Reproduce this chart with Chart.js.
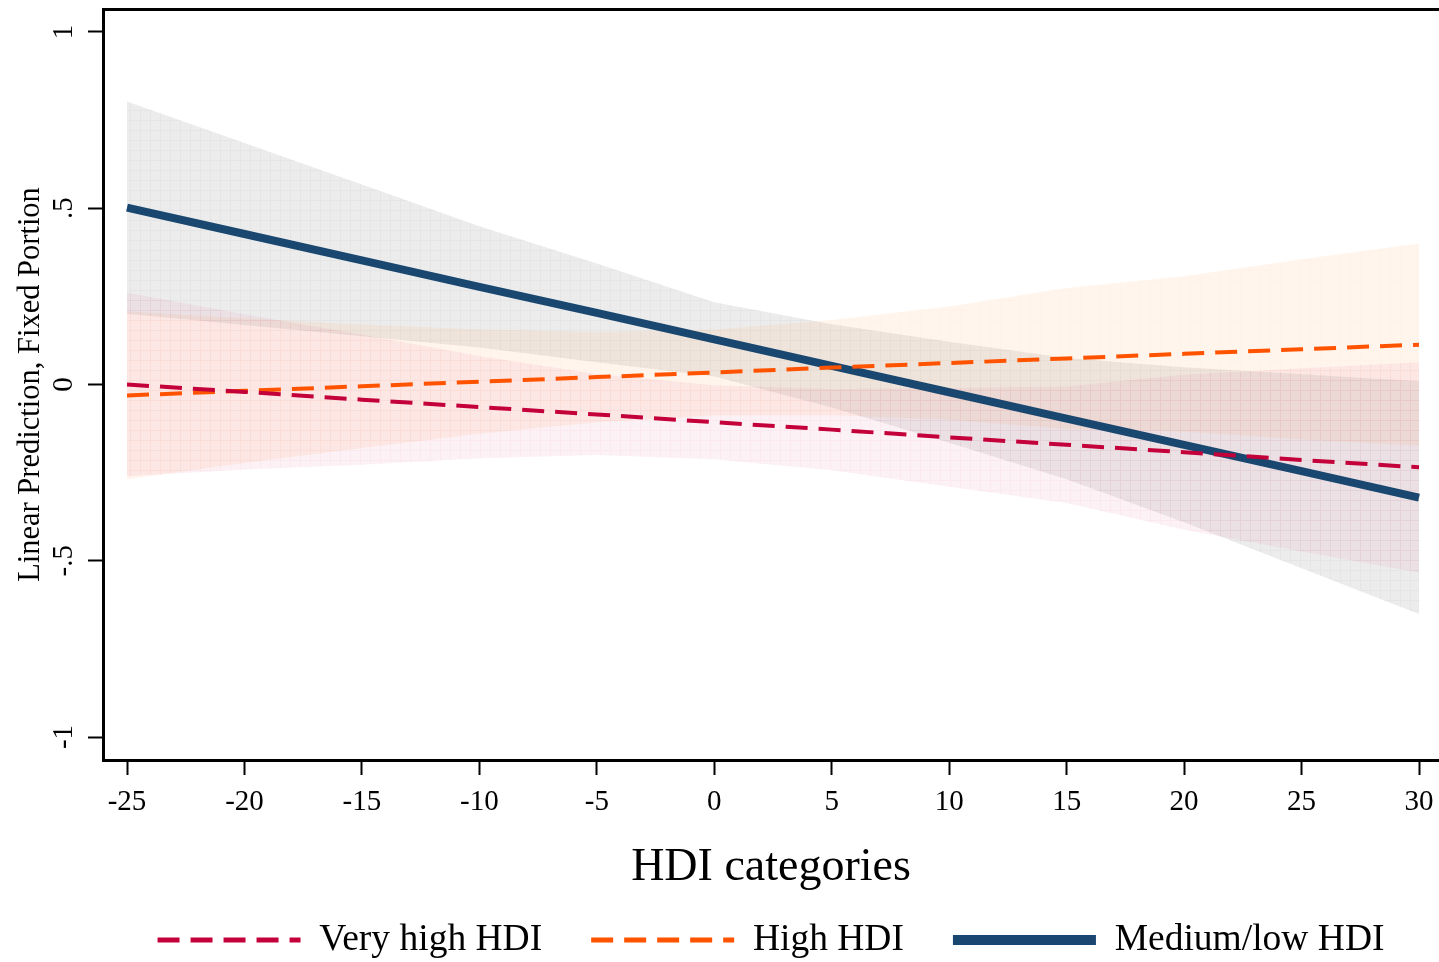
<!DOCTYPE html>
<html>
<head>
<meta charset="utf-8">
<title>Linear prediction by HDI category</title>
<script src="https://cdn.jsdelivr.net/npm/chart.js@4.4.1/dist/chart.umd.min.js"></script>
<style>
  html, body { margin: 0; padding: 0; background: #ffffff; overflow: hidden; }
  #chart { display: block; width: 1439px; height: 962px; }
</style>
</head>
<body>
<canvas id="chart" width="1439" height="962"></canvas>
<script>
// Evaluation points on the HDI axis
const hdiCategories = [-25, -20, -15, -10, -5, 0, 5, 10, 15, 20, 25, 30];

// Very high HDI: prediction and 95% CI
const veryHighFit   = [0.000, -0.021, -0.043, -0.064, -0.085, -0.107, -0.128, -0.150, -0.171, -0.192, -0.214, -0.235];
const veryHighUpper = [0.260,  0.199,  0.142,  0.081,  0.030, -0.002, -0.013, -0.010, -0.006,  0.028,  0.046,  0.063];
const veryHighLower = [-0.260, -0.241, -0.228, -0.209, -0.200, -0.212, -0.243, -0.290, -0.336, -0.412, -0.474, -0.533];

// High HDI: prediction and 95% CI
const highFit   = [-0.031, -0.018, -0.005, 0.008, 0.021, 0.034, 0.048, 0.061, 0.074, 0.087, 0.100, 0.113];
const highUpper = [0.207, 0.187, 0.170, 0.156, 0.149, 0.156, 0.183, 0.221, 0.274, 0.307, 0.355, 0.400];
const highLower = [-0.269, -0.223, -0.180, -0.140, -0.107, -0.088, -0.087, -0.099, -0.126, -0.133, -0.155, -0.174];

// Medium/low HDI: prediction and 95% CI
const mediumLowFit   = [0.502, 0.427, 0.352, 0.277, 0.203, 0.128, 0.053, -0.022, -0.097, -0.171, -0.246, -0.321];
const mediumLowUpper = [0.803, 0.685, 0.567, 0.449, 0.343, 0.233, 0.171, 0.121, 0.075, 0.049, 0.029, 0.009];
const mediumLowLower = [0.201, 0.169, 0.137, 0.105, 0.063, 0.023, -0.065, -0.165, -0.269, -0.391, -0.521, -0.651];

const seriesNames = ['Very high HDI', 'High HDI', 'Medium/low HDI'];

// Axis ticks
const xTickValues = [-25, -20, -15, -10, -5, 0, 5, 10, 15, 20, 25, 30];
const xTickLabels = ['-25', '-20', '-15', '-10', '-5', '0', '5', '10', '15', '20', '25', '30'];
const yTickValues = [-1, -0.5, 0, 0.5, 1];
const yTickLabels = ['-1', '-.5', '0', '.5', '1'];

const SERIF = "'Liberation Serif', 'Times New Roman', Times, serif";
const canvas = document.getElementById('chart');
const ctx = canvas.getContext('2d');

// Light textured fill for the confidence bands
function bandFill(rgb, alpha, lineAlpha) {
  const tile = document.createElement('canvas');
  tile.width = 10; tile.height = 10;
  const t = tile.getContext('2d');
  t.fillStyle = `rgba(${rgb},${alpha})`;
  t.fillRect(0, 0, 10, 10);
  t.clearRect(0, 0, 10, 1);
  t.clearRect(0, 1, 1, 9);
  t.fillStyle = `rgba(${rgb},${lineAlpha})`;
  t.fillRect(0, 0, 10, 1);
  t.fillRect(0, 1, 1, 9);
  return ctx.createPattern(tile, 'repeat');
}

const toPoints = (values) => hdiCategories.map((x, i) => ({ x: x, y: values[i] }));

function bandDatasets(upper, lower, fill) {
  const common = { pointRadius: 0, borderWidth: 1, borderColor: 'rgba(0,0,0,0)', order: 10 };
  return [
    Object.assign({ label: '', data: toPoints(upper), fill: '+1', backgroundColor: fill }, common),
    Object.assign({ label: '', data: toPoints(lower), fill: false }, common)
  ];
}

const datasets = [
  ...bandDatasets(veryHighUpper, veryHighLower, bandFill('215,40,100', 0.065, 0.1)),
  ...bandDatasets(highUpper, highLower, bandFill('255,160,80', 0.1, 0.14)),
  ...bandDatasets(mediumLowUpper, mediumLowLower, bandFill('100,100,100', 0.12, 0.17)),
  {
    label: seriesNames[0], data: toPoints(veryHighFit), fill: false,
    borderColor: '#c4003a', backgroundColor: '#c4003a', borderWidth: 4,
    borderDash: [22, 11], borderCapStyle: 'butt', pointRadius: 0, order: 1
  },
  {
    label: seriesNames[1], data: toPoints(highFit), fill: false,
    borderColor: '#ff5300', backgroundColor: '#ff5300', borderWidth: 4,
    borderDash: [22, 11], borderCapStyle: 'butt', pointRadius: 0, order: 2
  },
  {
    label: seriesNames[2], data: toPoints(mediumLowFit), fill: false,
    borderColor: '#1a476f', backgroundColor: '#1a476f', borderWidth: 8,
    borderCapStyle: 'butt', pointRadius: 0, order: 3
  }
];

const axisLine = { display: true, color: '#000000', width: 3 };
const tickMarks = { display: true, drawOnChartArea: false, drawTicks: true, tickLength: 15, tickWidth: 2, tickColor: '#000000', color: '#000000' };
const X_MIN = -26.022, X_MAX = 30.851;
const Y_MIN = -1.0652, Y_MAX = 1.0652;

// Fixed box sizes so the plot frame sits exactly where the axes need it
function pinScale(size) {
  return (scale) => {
    if (scale.isHorizontal()) { scale.height = size; } else { scale.width = size; }
    scale.paddingLeft = 0; scale.paddingRight = 0;
    scale.paddingTop = 0; scale.paddingBottom = 0;
  };
}

new Chart(ctx, {
  type: 'line',
  data: { datasets: datasets },
  options: {
    responsive: false,
    animation: false,
    devicePixelRatio: 1,
    layout: { padding: { top: 9, left: 0, right: 0, bottom: 0 } },
    plugins: {
      filler: { drawTime: 'beforeDatasetsDraw' },
      tooltip: { enabled: false },
      title: { display: false },
      legend: {
        position: 'bottom',
        fullSize: false,
        maxHeight: 89.75,
        labels: {
          color: '#000000',
          font: { family: SERIF, size: 37.5 },
          usePointStyle: true,
          pointStyle: 'line',
          pointStyleWidth: 143,
          padding: 49,
          filter: (item) => item.text !== '',
          generateLabels: (chart) => Chart.defaults.plugins.legend.labels.generateLabels(chart)
            .map((item) => {
              const ds = chart.data.datasets[item.datasetIndex];
              return Object.assign(item, {
                lineWidth: ds.borderWidth >= 8 ? 10 : 5,
                lineDash: ds.borderDash || [],
                lineCap: 'butt',
                strokeStyle: ds.borderColor,
                fillStyle: ds.borderColor
              });
            })
        }
      }
    },
    scales: {
      x: {
        type: 'linear',
        position: 'bottom',
        min: X_MIN,
        max: X_MAX,
        afterBuildTicks: (scale) => { scale.ticks = xTickValues.map((v) => ({ value: v })); },
        afterFit: pinScale(112.25),
        border: axisLine,
        grid: tickMarks,
        ticks: {
          color: '#000000',
          font: { family: SERIF, size: 29 },
          padding: 10,
          maxRotation: 0,
          autoSkip: false,
          callback: (value, index) => xTickLabels[index]
        },
        title: {
          display: true,
          text: 'HDI categories',
          color: '#000000',
          font: { family: SERIF, size: 46 },
          padding: { top: 0, bottom: -23.25 }
        }
      },
      xTop: {
        type: 'linear',
        position: 'top',
        min: X_MIN,
        max: X_MAX,
        afterFit: pinScale(0),
        border: axisLine,
        grid: { display: true, drawOnChartArea: false, drawTicks: false },
        ticks: { display: false }
      },
      y: {
        type: 'linear',
        position: 'left',
        min: Y_MIN,
        max: Y_MAX,
        afterBuildTicks: (scale) => { scale.ticks = yTickValues.map((v) => ({ value: v })); },
        afterFit: pinScale(103),
        border: axisLine,
        grid: tickMarks,
        ticks: {
          color: '#000000',
          font: { family: SERIF, size: 29 },
          padding: 8,
          minRotation: 90,
          maxRotation: 90,
          crossAlign: 'center',
          autoSkip: false,
          callback: (value, index) => yTickLabels[index]
        },
        title: {
          display: true,
          text: 'Linear Prediction, Fixed Portion',
          color: '#000000',
          font: { family: SERIF, size: 30.5 },
          padding: { top: 12.7, bottom: 0 }
        }
      }
    }
  }
});
</script>
</body>
</html>
